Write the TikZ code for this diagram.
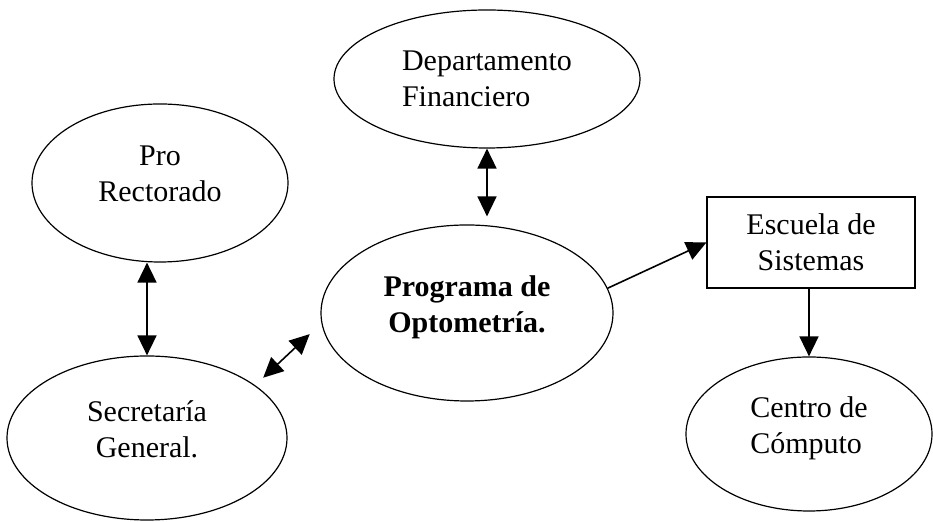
\documentclass[tikz,border=0pt]{standalone}
\usepackage{fontspec}
\setmainfont{Liberation Serif}
\usetikzlibrary{shapes.geometric}
\usetikzlibrary{arrows.meta}

\begin{document}
\begin{tikzpicture}[x=0.5pt,y=-0.5pt,>={Triangle[length=10pt,width=9.5pt]},line width=0.8pt]
\tikzstyle{every node}=[font=\fontsize{15pt}{18pt}\selectfont]
\tikzstyle{unidad}=[ellipse,draw=black,line width=0.6pt,inner sep=0pt,align=center,text depth=9pt]
\tikzstyle{oficina}=[rectangle,draw=black,line width=0.6pt,inner sep=0pt,align=center]
\useasboundingbox (0,0) rectangle (933,522);

        \node[unidad,minimum width=128pt,minimum height=79pt]   (pro)    at (160,183)   {Pro\\Rectorado};
        \node[unidad,minimum width=153pt,minimum height=69pt,align=left,text depth=0pt] (dept) at (487,79) {Departamento\\Financiero};
        \node[unidad,minimum width=146pt,minimum height=88pt]   (prog)   at (467,313)   {\textbf{Programa de}\\\textbf{Optometría.}};
        \node[oficina,minimum width=104pt,minimum height=45.5pt] (esc)   at (811,242.5) {Escuela de\\Sistemas};
        \node[unidad,minimum width=123pt,minimum height=77pt,align=left] (centro) at (809,434) {Centro de\\Cómputo};
        \node[unidad,minimum width=140pt,minimum height=82pt]   (sec)    at (147,438)   {Secretaría\\General.};

        \path[<->]
        (pro.south -| sec.north) edge (sec.north)
        (dept.south) edge[shorten >=4pt] (dept.south |- prog.north)
        (sec.26) edge[shorten <=5.5pt, shorten >=8pt] (prog.184)
        ; %end path

        \path[->]
        (prog.10)  edge (esc.west)
        (centro.north |- esc.south) edge (centro.north)
        ; %end path

\end{tikzpicture}
\end{document}
